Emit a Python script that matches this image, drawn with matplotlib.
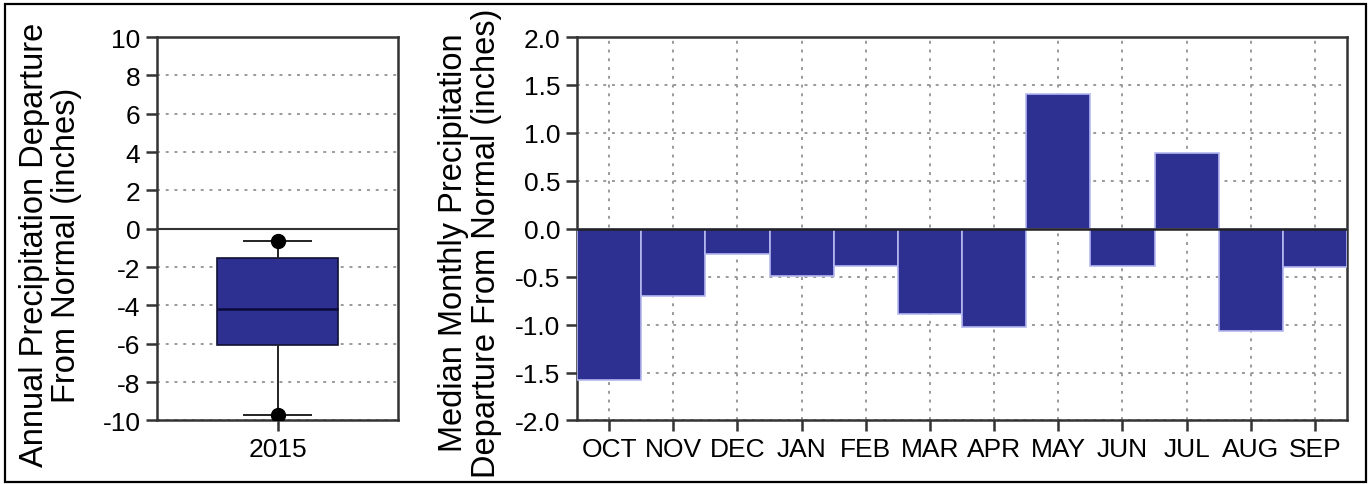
import matplotlib.pyplot as plt
from matplotlib.patches import Rectangle

plt.rcParams['font.family'] = ['Liberation Sans', 'DejaVu Sans']
plt.rcParams['axes.unicode_minus'] = False

# annual box plot (2015), values in inches
year_label = '2015'
box_q1 = -6.05
box_med = -4.2
box_q3 = -1.5
whisker_lo = -9.7
whisker_hi = -0.65
outliers = [-9.7, -0.65]

# monthly medians
months = ['OCT', 'NOV', 'DEC', 'JAN', 'FEB', 'MAR',
          'APR', 'MAY', 'JUN', 'JUL', 'AUG', 'SEP']
departure = [-1.58, -0.70, -0.26, -0.49, -0.39, -0.89,
             -1.02, 1.41, -0.39, 0.79, -1.07, -0.40]

bar_color = '#2D2F91'
grid_kw = dict(color='#9a9a9a', linestyle=(0, (1.5, 3)), linewidth=1.4)
tick_size = 19
label_size = 23.5

fig = plt.figure(figsize=(13.68, 4.85), dpi=100)
ax1 = fig.add_axes([0.1148, 0.131, 0.1762, 0.7905])
ax2 = fig.add_axes([0.4218, 0.131, 0.5629, 0.7905])

# --- left: box plot
stats = [dict(med=box_med, q1=box_q1, q3=box_q3, whislo=whisker_lo,
              whishi=whisker_hi, fliers=outliers, label=year_label)]
ax1.bxp(stats, positions=[1], widths=0.5, patch_artist=True,
        boxprops=dict(facecolor=bar_color, edgecolor='#111133', linewidth=1.2),
        medianprops=dict(color='#0a0a3a', linewidth=1.8),
        whiskerprops=dict(color='#222222', linewidth=1.4),
        capprops=dict(color='#222222', linewidth=1.4),
        capwidths=0.28,
        flierprops=dict(marker='o', markerfacecolor='black',
                        markeredgecolor='black', markersize=10),
        zorder=3)
ax1.set_xlim(0.5, 1.5)
ax1.set_ylim(-10, 10)
ax1.set_yticks(range(-10, 11, 2))
ax1.set_axisbelow(True)
ax1.yaxis.grid(True, **grid_kw)
ax1.axhline(0, color='#333333', linewidth=1.5, zorder=2)
ax1.set_ylabel('Annual Precipitation Departure\nFrom Normal (inches)',
               fontsize=label_size, linespacing=1.05)
ax1.yaxis.set_label_coords(-0.31, 0.46)

# --- right: monthly bars
x = range(len(months))
ax2.bar(x, departure, width=1.0, color=bar_color, edgecolor='#b4b8f0',
        linewidth=1.2, zorder=3)
ax2.set_xlim(-0.5, len(months) - 0.5)
ax2.set_ylim(-2.0, 2.0)
ax2.set_yticks([-2.0, -1.5, -1.0, -0.5, 0.0, 0.5, 1.0, 1.5, 2.0])
ax2.set_yticklabels(['%.1f' % v for v in ax2.get_yticks()])
ax2.set_xticks(list(x))
ax2.set_xticklabels(months)
ax2.set_axisbelow(True)
ax2.grid(True, **grid_kw)
ax2.axhline(0, color='#222222', linewidth=1.8, zorder=4)
ax2.set_ylabel('Median Monthly Precipitation\nDeparture From Normal (inches)',
               fontsize=label_size, linespacing=1.05)
ax2.yaxis.set_label_coords(-0.098, 0.465)

for ax in (ax1, ax2):
    for s in ax.spines.values():
        s.set_linewidth(1.8)
        s.set_color('#333333')
    ax.tick_params(axis='both', which='both', direction='out', length=8,
                   width=1.8, labelsize=tick_size, color='#333333',
                   top=False, right=False, pad=4)

# outer frame around the whole figure
fig.add_artist(Rectangle((0.0037, 0.004), 0.9948, 0.9857,
                         transform=fig.transFigure, fill=False,
                         edgecolor='black', linewidth=1.6))

fig.savefig('out.png', dpi=100)
